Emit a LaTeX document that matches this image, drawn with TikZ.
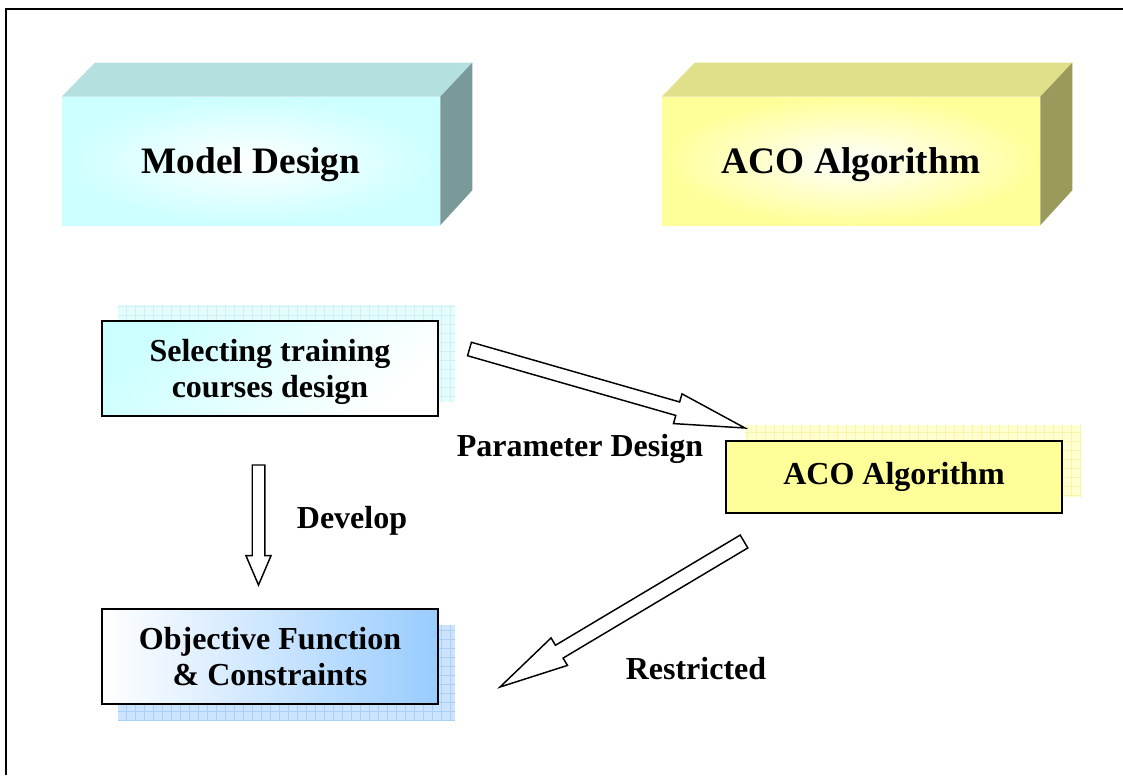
\documentclass[tikz,border=0pt]{standalone}
\usepackage{fontspec}
\setmainfont{Liberation Serif}
\usetikzlibrary{calc,positioning}

\definecolor{cyanface}{RGB}{204,255,255}
\definecolor{cyantop}{RGB}{180,224,224}
\definecolor{cyanside}{RGB}{122,154,153}
\definecolor{yellowface}{RGB}{255,255,153}
\definecolor{yellowtop}{RGB}{224,224,138}
\definecolor{yellowside}{RGB}{154,154,92}
\definecolor{objblue}{RGB}{153,204,255}
\definecolor{cyanshadow}{RGB}{228,252,252}
\definecolor{cyangrid}{RGB}{206,240,244}
\definecolor{yellowshadow}{RGB}{255,255,208}
\definecolor{yellowgrid}{RGB}{250,244,170}
\definecolor{blueshadow}{RGB}{204,228,255}
\definecolor{bluegrid}{RGB}{170,208,248}

\tikzset{
  titlebox/.style={minimum width=283.5pt, minimum height=96pt, inner sep=0pt, text depth=0pt,
    font=\fontsize{28}{32}\selectfont\bfseries},
  stepbox/.style={draw=black, line width=1.1pt, minimum width=252pt, inner sep=0pt,
    align=center, font=\fontsize{24}{26.5}\selectfont\bfseries},
  tag/.style={inner sep=0pt, font=\fontsize{24}{26}\selectfont\bfseries},
  blockarrow/.style={draw=black, line width=1.1pt, fill=white, line join=miter},
}

% hollow arrow: tail, tip, shaft half width, head half width, head length
\newcommand{\hollowarrow}[5]{%
  \coordinate (hb) at ($(#2)!#5!(#1)$);
  \draw[blockarrow] ($(#1)!#3!90:(#2)$) -- ($(hb)!#3!90:(#2)$) -- ($(hb)!#4!90:(#2)$)
    -- (#2) -- ($(hb)!#4!-90:(#2)$) -- ($(hb)!#3!-90:(#2)$) -- ($(#1)!#3!-90:(#2)$) -- cycle;
}

\begin{document}
\begin{tikzpicture}[x=0.75pt,y=-0.75pt]
\useasboundingbox (0,0) rectangle (1123,775);

% frame
\draw[line width=1.8pt] (6,775) -- (6,9) -- (1123,9);

% top blocks
\node[titlebox, inner color=white, outer color=cyanface] (model) at (251,161) {Model Design};
\fill[cyantop] (model.north west) -- ++(33,-34) -- ([shift={(32,-34)}]model.north east) -- (model.north east) -- cycle;
\fill[cyanside] (model.north east) -- ++(32,-34) -- ([shift={(32,-35)}]model.south east) -- (model.south east) -- cycle;

\node[titlebox, inner color=white, outer color=yellowface] (aco) at (851,161) {ACO Algorithm};
\fill[yellowtop] (aco.north west) -- ++(33,-34) -- ([shift={(32,-34)}]aco.north east) -- (aco.north east) -- cycle;
\fill[yellowside] (aco.north east) -- ++(32,-34) -- ([shift={(32,-35)}]aco.south east) -- (aco.south east) -- cycle;

% shadows
\coordinate (s1a) at (118,305); \coordinate (s1b) at (455,402);
\fill[cyanshadow] (s1a) rectangle (s1b);
\draw[cyangrid, step=6.75pt] (s1a) grid (s1b);
\coordinate (s2a) at (745,425); \coordinate (s2b) at (1080,497);
\fill[yellowshadow] (s2a) rectangle (s2b);
\draw[yellowgrid, step=6.75pt] (s2a) grid (s2b);
\coordinate (s3a) at (118,625); \coordinate (s3b) at (455,721);
\fill[blueshadow] (s3a) rectangle (s3b);
\draw[bluegrid, step=6.75pt] (s3a) grid (s3b);

% steps
\node[stepbox, minimum height=71.25pt, text depth=0pt, left color=cyanface, right color=white, shading angle=45]
  (select) at (270,368.5) {Selecting training\\courses design};
\node[stepbox, minimum height=54pt, fill=yellowface] (acostep) at (894,477) {ACO Algorithm};
\node[stepbox, minimum height=71.25pt, left color=white, right color=objblue]
  (objective) at (270,656.5) {Objective Function\\\& Constraints};

% arrows
\coordinate (devtail) at (258.5,465); \coordinate (devtip) at (258.5,585);
\hollowarrow{devtail}{devtip}{4.7pt}{9.4pt}{22pt}
\coordinate (partail) at (469.5,349); \coordinate (partip) at (745,428);
\hollowarrow{partail}{partip}{5.25pt}{11.6pt}{52.5pt}
\coordinate (restail) at (744,541.5); \coordinate (restip) at (500,687);
\hollowarrow{restail}{restip}{5.6pt}{12pt}{51.75pt}

% labels
\node[tag] (develop) at (352,521) {Develop};
\node[tag] (param) at (580,449) {Parameter Design};
\node[tag] (restrict) at (696,669) {Restricted};

\end{tikzpicture}
\end{document}
